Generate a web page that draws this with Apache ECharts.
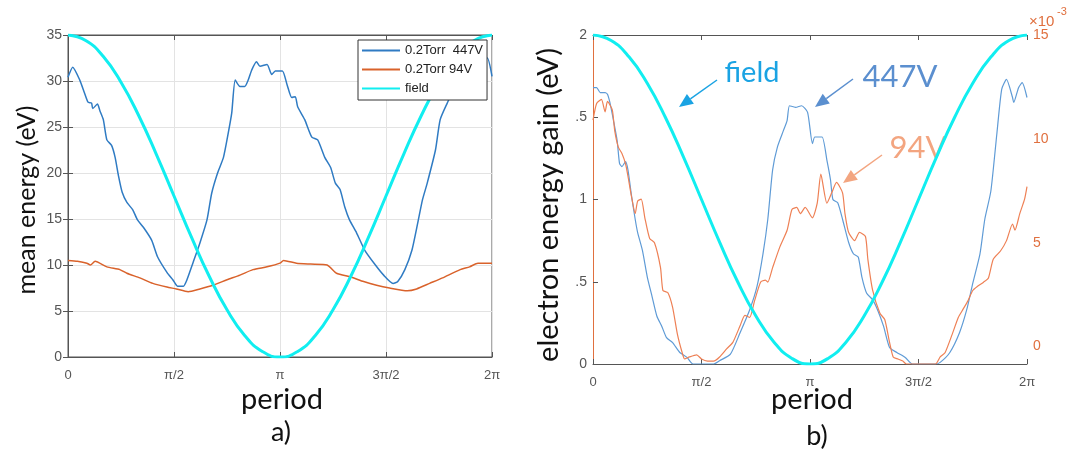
<!DOCTYPE html>
<html lang="en">
<head>
<meta charset="UTF-8">
<title>mean energy / energy gain</title>
<script src="https://cdn.jsdelivr.net/npm/echarts@6/dist/echarts.min.js"></script>
<style>html,body{margin:0;background:#fff}</style>
</head>
<body>
<div id="chart" style="width:1067px;height:450px;"></div>
<script>
// x values are degrees of the field period (0..360 = 0..2π)
const tickDeg = [0, 90, 180, 270, 360];
const tickLabels = ['0', 'π/2', 'π', '3π/2', '2π'];

// panel a) mean energy (eV)
const a447X = [0, 4, 10, 14, 17, 20, 21, 25, 27, 30, 33, 37, 40, 43, 46, 50, 55, 59, 64, 71, 76, 84, 89, 93, 98, 101, 106, 112, 118, 122, 127, 132, 136, 139, 142, 146, 150, 153, 156, 160, 163, 169, 173, 176, 182, 186, 190, 193, 195, 201, 207, 212, 218, 223, 227, 231, 235, 239, 245, 252, 261, 268, 276, 280, 286, 292, 297, 301, 305, 312, 316, 322, 329, 337, 346, 352, 356, 360];
const a447Y = [30.4, 31.5, 30.1, 28.7, 27.7, 27.6, 27.0, 27.5, 26.8, 25.8, 23.6, 23.0, 21.7, 19.6, 17.9, 16.8, 16.0, 14.9, 14.1, 12.7, 10.9, 9.2, 8.4, 7.7, 7.7, 8.4, 10.2, 12.4, 14.9, 17.8, 20.0, 21.7, 24.3, 26.5, 30.1, 29.4, 29.4, 30.1, 31.2, 32.1, 31.6, 31.8, 30.7, 31.1, 31.1, 29.6, 28.2, 28.3, 27.2, 25.8, 23.9, 23.6, 21.7, 20.6, 18.9, 18.2, 16.3, 14.9, 13.5, 11.6, 10.0, 8.9, 8.0, 8.2, 9.5, 11.6, 14.6, 17.1, 18.9, 22.5, 25.8, 27.6, 29.5, 31.0, 31.5, 32.3, 32.5, 30.5];
const a94X = [0, 8, 16, 19, 23, 33, 44, 50, 61, 72, 84, 92, 102, 112, 123, 135, 146, 157, 169, 180, 183, 194, 206, 220, 228, 240, 251, 262, 273, 288, 296, 307, 318, 333, 341, 348, 360];
const a94Y = [10.5, 10.4, 10.2, 10.0, 10.4, 9.8, 9.5, 9.1, 8.6, 8.0, 7.6, 7.4, 7.1, 7.4, 7.8, 8.4, 8.9, 9.5, 9.8, 10.2, 10.5, 10.2, 10.1, 10.0, 9.1, 8.7, 8.2, 7.8, 7.5, 7.2, 7.4, 8.0, 8.6, 9.5, 9.8, 10.2, 10.2];
const fieldX = [0, 15, 30, 45, 60, 75, 90, 105, 120, 135, 150, 165, 180, 195, 210, 225, 240, 255, 270, 285, 300, 315, 330, 345, 360];
const fieldAY = [35, 34.4, 32.66, 29.87, 26.25, 22.03, 17.5, 12.97, 8.75, 5.13, 2.34, 0.6, 0, 0.6, 2.34, 5.13, 8.75, 12.97, 17.5, 22.03, 26.25, 29.87, 32.66, 34.4, 35];

// panel b) electron energy gain (eV); 94V on the right axis, units of 1e-3
const b447X = [0, 3, 6, 10, 12, 14, 17, 20, 22, 24, 27, 29, 32, 35, 37, 41, 45, 49, 53, 57, 61, 66, 72, 78, 83, 100, 105, 114, 122, 130, 136, 141, 145, 149, 153, 158, 161, 163, 168, 173, 178, 182, 184, 190, 194, 197, 199, 203, 207, 212, 216, 220, 223, 227, 232, 236, 241, 246, 252, 259, 265, 284, 288, 296, 304, 310, 315, 321, 325, 330, 335, 339, 343, 348, 349, 353, 356, 360];
const b447Y = [1.68, 1.68, 1.65, 1.65, 1.64, 1.59, 1.48, 1.36, 1.22, 1.20, 1.23, 1.18, 1.02, 0.88, 0.80, 0.69, 0.53, 0.41, 0.29, 0.23, 0.16, 0.13, 0.07, 0.04, 0, 0, 0.02, 0.06, 0.19, 0.33, 0.47, 0.67, 0.88, 1.18, 1.32, 1.42, 1.48, 1.57, 1.56, 1.57, 1.53, 1.34, 1.38, 1.38, 1.24, 1.12, 1.0, 0.98, 0.88, 0.74, 0.67, 0.65, 0.53, 0.43, 0.39, 0.33, 0.23, 0.10, 0.07, 0.04, 0, 0, 0.01, 0.07, 0.19, 0.33, 0.49, 0.67, 0.88, 1.05, 1.40, 1.67, 1.73, 1.62, 1.59, 1.68, 1.71, 1.62];
const b94X = [0, 3, 7, 10, 12, 16, 18, 21, 24, 27, 29, 32, 35, 37, 40, 43, 47, 51, 56, 58, 62, 66, 70, 74, 76, 80, 86, 90, 95, 100, 105, 111, 116, 122, 126, 130, 134, 139, 143, 145, 149, 155, 161, 165, 169, 172, 176, 182, 186, 189, 194, 198, 202, 207, 209, 212, 217, 221, 226, 228, 232, 238, 242, 246, 249, 253, 257, 260, 284, 288, 292, 298, 303, 307, 311, 315, 319, 324, 328, 332, 338, 343, 348, 350, 354, 358, 360];
const b94Y = [10.9, 11.7, 11.9, 11.3, 11.8, 11.4, 10.4, 9.6, 9.3, 8.8, 8.2, 7.2, 6.4, 7.0, 7.1, 6.2, 5.2, 5.0, 3.8, 2.7, 2.6, 1.9, 0.6, -0.3, -0.6, -0.5, -0.4, -0.6, -0.7, -0.7, -0.5, -0.1, 0.2, 1.0, 1.5, 1.4, 2.2, 3.1, 3.2, 3.1, 3.8, 4.8, 5.6, 6.6, 6.7, 6.4, 6.7, 6.2, 6.9, 8.3, 6.9, 7.4, 7.9, 7.4, 6.4, 5.5, 5.1, 5.5, 5.3, 4.2, 2.7, 1.6, 1.3, 0.2, -0.5, -0.6, -0.7, -0.84, -0.84, -0.5, -0.3, 0.6, 1.4, 1.8, 2.2, 2.7, 2.9, 3.1, 3.3, 4.2, 4.6, 5.1, 5.9, 5.6, 6.4, 7.1, 7.7];
const fieldBY = [2, 1.966, 1.866, 1.707, 1.5, 1.259, 1.0, 0.741, 0.5, 0.293, 0.134, 0.034, 0, 0.034, 0.134, 0.293, 0.5, 0.741, 1.0, 1.259, 1.5, 1.707, 1.866, 1.966, 2];
const rightTicks = [0, 5, 10, 15];

const zip = (xs, ys) => xs.map((x, i) => [x, ys[i]]);
const degLabel = v => { const i = tickDeg.indexOf(v); return i < 0 ? '' : tickLabels[i]; };

const chart = echarts.init(document.getElementById('chart'));

const tickFont = 'Liberation Sans';
const bigFont = 'Lato';
const axisGray = '#555';
const cRight = '#e0703f';

function xAxisDef(grid, pos, labels, split) {
    return {
        gridIndex: grid, type: 'value', position: pos, min: 0, max: 360, interval: 90,
        axisLine: {onZero: false, lineStyle: {color: axisGray, width: 1}},
        axisTick: {show: true, inside: true, length: 5, lineStyle: {color: axisGray}},
        axisLabel: {show: labels, formatter: degLabel, color: '#555', fontSize: 13, margin: 12, fontFamily: tickFont},
        splitLine: {show: split, lineStyle: {color: '#e3e3e3'}}
    };
}

function arrow(x1, y1, x2, y2, color) {
    const dx = x2 - x1, dy = y2 - y1, len = Math.hypot(dx, dy);
    const ux = dx / len, uy = dy / len, h = 14, w = 6;
    const bx = x2 - ux * h, by = y2 - uy * h;
    return [
        {type: 'line', shape: {x1: x1, y1: y1, x2: bx, y2: by}, style: {stroke: color, lineWidth: 1.5}},
        {type: 'polygon', shape: {points: [[x2, y2], [bx - uy * w, by + ux * w], [bx + uy * w, by - ux * w]]}, style: {fill: color}}
    ];
}

function label(text, x, y, size, color, rot) {
    return {
        type: 'text', x: x, y: y, rotation: rot || 0,
        style: {text: text, fontSize: size, fontFamily: bigFont, fill: color, align: 'center', verticalAlign: 'middle'}
    };
}

const cBlueA = '#2f7bc3', cOrangeA = '#d9622b', cCyan = '#11eef0';
const cBlueB = '#5f9bd6', cOrangeB = '#ee8055';

chart.setOption({
    animation: false,
    grid: [
        {left: 68, top: 35, width: 424, height: 322, show: true, borderColor: axisGray, borderWidth: 1},
        {left: 593, top: 35, width: 434, height: 329}
    ],
    legend: {
        data: ['0.2Torr  447V', '0.2Torr 94V', 'field'],
        orient: 'vertical', left: 358, top: 40,
        backgroundColor: '#fff', borderColor: '#333', borderWidth: 1,
        padding: [4, 4, 5, 4], itemGap: 6, itemWidth: 38, itemHeight: 2, icon: 'rect',
        textStyle: {fontSize: 13, fontFamily: tickFont, color: '#222'}
    },
    xAxis: [
        xAxisDef(0, 'bottom', true, true),
        xAxisDef(0, 'top', false, false),
        xAxisDef(1, 'bottom', true, false),
        xAxisDef(1, 'top', false, false)
    ],
    yAxis: [
        {
            gridIndex: 0, type: 'value', min: 0, max: 35, interval: 5,
            axisLine: {show: true, lineStyle: {color: axisGray}},
            axisTick: {show: true, inside: true, length: 5, lineStyle: {color: axisGray}},
            axisLabel: {color: '#555', fontSize: 14, margin: 6, fontFamily: tickFont},
            splitLine: {show: true, lineStyle: {color: '#e3e3e3'}}
        },
        {
            gridIndex: 0, type: 'value', position: 'right', min: 0, max: 35, interval: 5,
            axisLine: {show: true, lineStyle: {color: axisGray}},
            axisTick: {show: true, inside: true, length: 5, lineStyle: {color: axisGray}},
            axisLabel: {show: false}, splitLine: {show: false}
        },
        {
            gridIndex: 1, type: 'value', min: 0, max: 2, interval: 0.5,
            axisLine: {show: true, lineStyle: {color: axisGray}},
            axisTick: {show: true, inside: true, length: 5, lineStyle: {color: axisGray}},
            axisLabel: {
                color: '#555', fontSize: 14, margin: 6, fontFamily: tickFont,
                formatter: v => (v === 0.5 || v === 1.5) ? '.5' : String(v)
            },
            splitLine: {show: false}
        },
        {
            gridIndex: 1, type: 'value', position: 'right', min: -0.84, max: 15,
            axisLine: {show: true, lineStyle: {color: cRight}},
            axisTick: {show: false},
            axisLabel: {color: cRight, fontSize: 14, margin: 6, fontFamily: tickFont, customValues: rightTicks},
            splitLine: {show: false}
        }
    ],
    series: [
        {name: '0.2Torr  447V', type: 'line', xAxisIndex: 0, yAxisIndex: 0, data: zip(a447X, a447Y),
            showSymbol: false, smooth: 0.2, lineStyle: {color: cBlueA, width: 1.5}, itemStyle: {color: cBlueA}},
        {name: '0.2Torr 94V', type: 'line', xAxisIndex: 0, yAxisIndex: 0, data: zip(a94X, a94Y),
            showSymbol: false, smooth: 0.2, lineStyle: {color: cOrangeA, width: 1.5}, itemStyle: {color: cOrangeA}},
        {name: 'field', type: 'line', xAxisIndex: 0, yAxisIndex: 0, data: zip(fieldX, fieldAY),
            showSymbol: false, smooth: true, lineStyle: {color: cCyan, width: 3}, itemStyle: {color: cCyan}},
        {name: '447V', type: 'line', xAxisIndex: 2, yAxisIndex: 2, data: zip(b447X, b447Y),
            showSymbol: false, smooth: 0.2, lineStyle: {color: cBlueB, width: 1.2}, itemStyle: {color: cBlueB}},
        {name: '94V', type: 'line', xAxisIndex: 2, yAxisIndex: 3, data: zip(b94X, b94Y),
            showSymbol: false, smooth: 0.2, lineStyle: {color: cOrangeB, width: 1.2}, itemStyle: {color: cOrangeB}},
        {name: 'field (b)', type: 'line', xAxisIndex: 2, yAxisIndex: 2, data: zip(fieldX, fieldBY),
            showSymbol: false, smooth: true, lineStyle: {color: cCyan, width: 3}, itemStyle: {color: cCyan}}
    ],
    graphic: [
        label('mean energy (eV)', 27, 200, 25, '#111', Math.PI / 2),
        label('period', 282, 400, 29, '#111'),
        label('a)', 281, 432, 27, '#111'),
        label('electron energy gain (eV)', 549, 205, 29, '#111', Math.PI / 2),
        label('period', 812, 400, 29, '#111'),
        label('b)', 817, 436, 27, '#111'),
        label('field', 752, 73, 29, '#1aa3e3'),
        label('447V', 900, 77, 31, '#5b8fcf'),
        label('94V', 918, 148, 31, '#f3a580'),
        {type: 'text', left: 1029, top: 14, style: {text: '×10', fontSize: 15, fontFamily: tickFont, fill: cRight}},
        {type: 'text', left: 1057, top: 6, style: {text: '-3', fontSize: 11, fontFamily: tickFont, fill: cRight}}
    ].concat(
        arrow(717, 80, 679, 107, '#1aa3e3'),
        arrow(853, 79, 815, 107, '#5b8fcf'),
        arrow(882, 155, 843, 183, '#f3a580')
    )
});
</script>
</body>
</html>
